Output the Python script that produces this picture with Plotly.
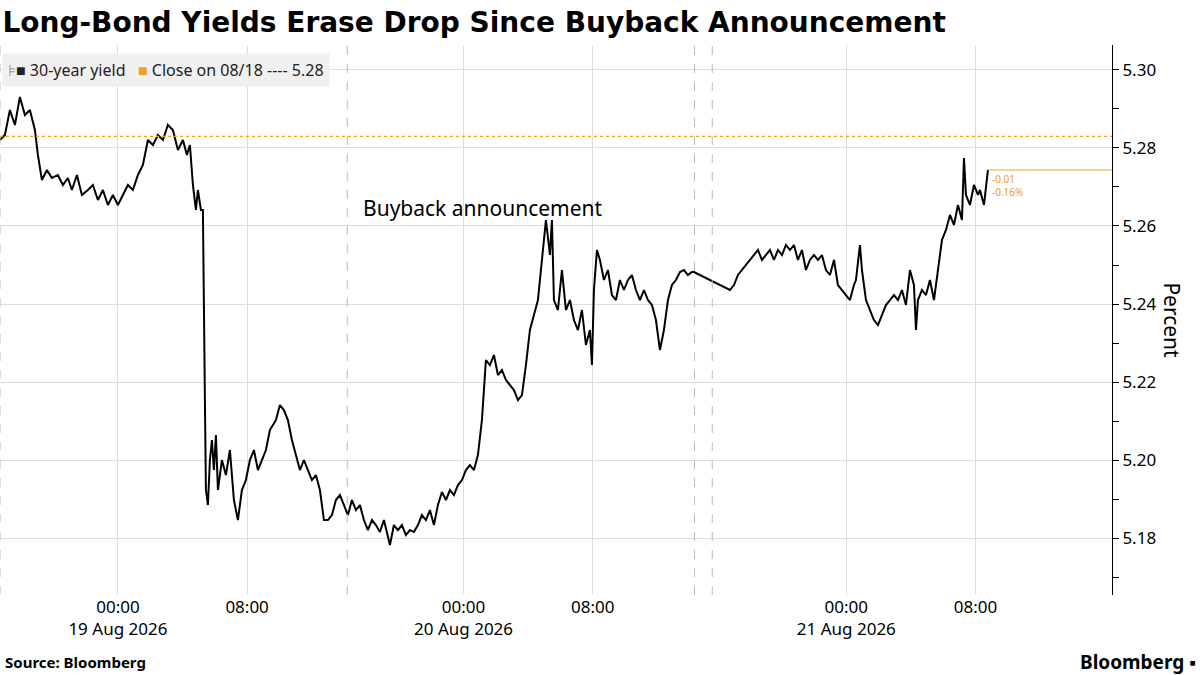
import plotly.graph_objects as go

# pixel x along the compressed time axis and the yield
px = [0,5,10,15,20,25,30,35,38,42,47,52,58,63,68,72,77,82,88,93,98,103,108,113,118,123,128,133,138,143,148,153,158,163,168,173,178,183,187,190,193,196,198,201,203,205,206,208,210,212,214,216,218,222,226,230,234,238,242,246,250,254,258,262,266,270,276,280,284,288,292,296,300,304,308,312,316,320,324,328,332,336,340,344,348,352,356,360,364,368,372,376,380,384,390,394,398,402,406,410,414,418,422,426,430,434,438,442,446,450,454,458,462,466,470,474,478,482,486,490,494,498,502,506,510,514,518,522,526,530,534,538,542,546,550,552,554,558,562,566,570,574,578,582,586,590,592,594,597,600,604,608,612,616,620,624,628,632,636,640,644,648,652,656,660,664,668,672,676,680,684,688,692,694,730,734,738,742,746,750,754,758,762,766,770,774,778,782,786,790,794,798,802,806,810,814,818,822,826,830,834,838,842,846,850,854,856,860,862,866,870,874,878,882,886,890,894,898,902,906,910,914,916,918,922,926,930,934,938,942,946,950,954,958,962,964,966,970,974,978,980,984,988]
py = [140,135,110,125,97,115,110,130,155,180,170,178,175,185,178,190,175,195,190,185,200,190,205,195,205,195,185,190,175,165,140,145,135,140,125,130,150,140,155,145,185,210,190,210,210,400,490,505,460,440,470,435,490,460,475,450,500,520,490,480,460,450,470,460,450,430,420,405,410,420,440,455,470,460,470,480,475,490,520,520,515,500,495,505,515,500,510,505,520,530,520,525,532,520,545,525,530,525,535,530,532,525,515,520,510,525,505,492,500,490,495,485,480,470,465,470,455,420,360,365,355,375,370,380,385,390,400,395,365,330,315,300,260,220,255,220,300,310,270,310,300,320,330,310,345,330,365,290,250,260,280,270,295,300,280,290,280,275,290,300,290,300,305,320,350,330,300,285,280,272,270,275,272,272,290,285,275,270,265,260,255,250,260,255,250,260,250,255,245,250,245,260,250,270,260,255,260,255,270,275,260,285,290,295,300,285,280,245,270,300,310,320,325,315,305,300,295,300,290,305,270,285,330,300,290,295,280,300,270,240,230,215,225,205,220,158,195,205,185,195,190,205,170]

hours = [(p - 118) / 16.15 for p in px]
yields = [5.30 - (v - 70) / 3900 for v in py]

tick_pos = [0, 8, 21.4, 29.4, 45.1, 53.1]
tick_text = ["00:00<br>19 Aug 2026", "08:00", "00:00<br>20 Aug 2026", "08:00", "00:00<br>21 Aug 2026", "08:00"]
breaks = [-7.3, 14.2, 35.7, 36.8]
prev_close = 5.283
x_min, x_max = -7.3, 61.55

fig = go.Figure()
fig.add_trace(go.Scatter(x=hours, y=yields, mode="lines", line=dict(color="black", width=2)))

fig.add_shape(type="line", xref="x", yref="y", x0=x_min, x1=x_max, y0=prev_close, y1=prev_close,
              line=dict(color="#f0a020", width=1.2, dash="dot"))
fig.add_shape(type="line", xref="x", yref="y", x0=hours[-1], x1=x_max, y0=yields[-1], y1=yields[-1],
              line=dict(color="#f0a020", width=1.2))
for b in breaks:
    fig.add_shape(type="line", xref="x", yref="paper", x0=b, x1=b, y0=0, y1=1,
                  line=dict(color="#bbbbbb", width=1, dash="dash"))

fig.add_annotation(x=hours[-1] + 0.1, y=yields[-1], text="-0.01<br>-0.16%", showarrow=False,
                   xanchor="left", yanchor="top", align="left",
                   font=dict(size=10, color="#e8a030"))
fig.add_annotation(x=22.6, y=5.2645, text="Buyback announcement", showarrow=False,
                   font=dict(size=21, color="black"))
fig.add_annotation(xref="paper", yref="paper", x=0.002, y=0.985, xanchor="left", yanchor="top",
                   text="<span style='color:#999'>⊧</span>■ 30-year yield   <span style='color:#f0a020'>■</span> Close on 08/18 ---- 5.28",
                   showarrow=False, bgcolor="#f0f0f0", borderpad=5, font=dict(size=16, color="#222"))
fig.add_annotation(xref="paper", yref="paper", x=1.068, y=0.5, textangle=90,
                   text="Percent", showarrow=False, font=dict(size=21, color="black"))

fig.add_annotation(xref="paper", yref="paper", x=0.003, y=-0.1, xanchor="left", yanchor="top",
                   text="<b>Source: Bloomberg</b>", showarrow=False, font=dict(size=15, color="black"))
fig.add_annotation(xref="paper", yref="paper", x=1.077, y=-0.095, xanchor="right", yanchor="top",
                   text="<b>Bloomberg ▪</b>", showarrow=False, font=dict(size=19, color="black"))

fig.update_layout(
    width=1200, height=675,
    margin=dict(l=0, r=88, t=45, b=80),
    paper_bgcolor="white", plot_bgcolor="white",
    showlegend=False,
    font=dict(family="Noto Sans", size=17, color="black"),
    title=dict(text="<b>Long-Bond Yields Erase Drop Since Buyback Announcement</b>",
               x=0.002, xanchor="left", y=0.982, yanchor="top",
               font=dict(family="DejaVu Sans", size=28, color="black")),
    xaxis=dict(range=[x_min, x_max], tickvals=tick_pos, ticktext=tick_text,
               showgrid=True, gridcolor="#dddddd", zeroline=False, ticks="",
               tickfont=dict(size=17), automargin=False),
    yaxis=dict(side="right", range=[5.1654, 5.3064], tickvals=[5.18, 5.20, 5.22, 5.24, 5.26, 5.28, 5.30],
               tickformat=".2f", showgrid=True, gridcolor="#dddddd", zeroline=False,
               showline=True, linecolor="black", ticks="outside", ticklen=6, tickcolor="black",
               minor=dict(dtick=0.01, ticks="outside", ticklen=6, tickcolor="black", showgrid=False),
               automargin=False),
)

fig.write_html("out.html", config={"displayModeBar": False},
               post_script="document.body.style.margin='0';")
